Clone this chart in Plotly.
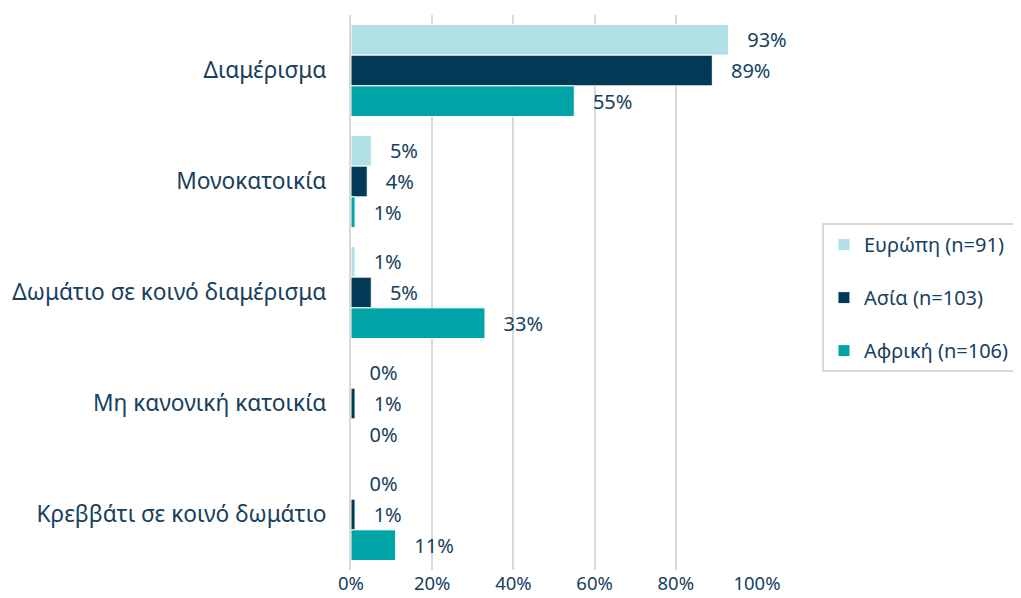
import plotly.graph_objects as go

categories = ["Διαμέρισμα", "Μονοκατοικία", "Δωμάτιο σε κοινό διαμέρισμα",
              "Μη κανονική κατοικία", "Κρεββάτι σε κοινό δωμάτιο"]
series_names = ["Ευρώπη (n=91)", "Ασία (n=103)", "Αφρική (n=106)"]
europe = [0.93, 0.05, 0.01, 0.00, 0.00]
asia = [0.89, 0.04, 0.05, 0.01, 0.01]
africa = [0.55, 0.01, 0.33, 0.00, 0.11]
colors = ["#B0DFE5", "#003A57", "#00A3A6"]
tick_vals = [0, 0.2, 0.4, 0.6, 0.8, 1.0]
tick_text = ["0%", "20%", "40%", "60%", "80%", "100%"]

TXT = "#16405E"
FONT = "Noto Sans"

fig = go.Figure()
for i, (name, vals) in enumerate(zip(series_names, [europe, asia, africa])):
    fig.add_trace(go.Bar(
        y=categories, x=vals, orientation="h", name=name,
        marker=dict(color=colors[i], line=dict(color="white", width=1)),
        text=["\u00a0\u00a0\u00a0" + f"{round(v*100)}%" for v in vals],
        textposition="outside", cliponaxis=False,
        textfont=dict(size=20, color=TXT, family=FONT),
        legendgroup=f"g{i}",
    ))

fig.update_layout(
    width=1013, height=590,
    margin=dict(l=343, r=264, t=7, b=28, autoexpand=False),
    barmode="group", bargap=0.17, bargroupgap=0.0,
    plot_bgcolor="white", paper_bgcolor="white",
    font=dict(family=FONT, color=TXT, size=20),
    xaxis=dict(range=[0, 1.0], tickvals=tick_vals, ticktext=tick_text,
               showgrid=True, gridcolor="#D9D9D9", gridwidth=2,
               zeroline=False, showline=False, tickfont=dict(size=18.5),
               ticks="", automargin=False),
    yaxis=dict(autorange="reversed", showgrid=False, zeroline=False,
               showline=True, linecolor="#D9D9D9", linewidth=2,
               ticks="", ticklabelstandoff=18, tickfont=dict(size=22.7),
               automargin=False),
    legend=dict(x=1.16, y=0.625, xanchor="left", yanchor="top",
                bordercolor="#D9D9D9", borderwidth=2,
                font=dict(size=20, color=TXT), tracegroupgap=24,
                traceorder="grouped"),
    showlegend=True,
)

fig.write_html("out.html")
